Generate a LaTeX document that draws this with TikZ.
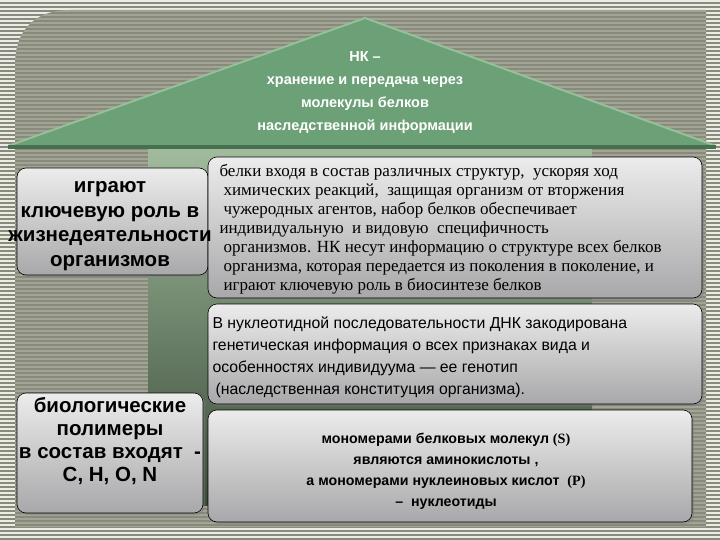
\documentclass[tikz,border=0pt]{standalone}
\usepackage{fontspec}
\setmainfont{Liberation Sans}
\newfontfamily\bookserif{Liberation Serif}
\usetikzlibrary{shadows}

\definecolor{framelight}{RGB}{236,236,230}
\definecolor{stripedark}{RGB}{136,138,124}
\definecolor{stripelight}{RGB}{162,164,150}
\definecolor{roofgreen}{RGB}{108,160,118}
\definecolor{roofedge}{RGB}{150,192,152}
\definecolor{roofbase}{RGB}{70,112,80}
\definecolor{bodytop}{RGB}{160,188,156}
\definecolor{bodymid}{RGB}{100,124,100}
\definecolor{bodybottom}{RGB}{58,74,58}
\definecolor{boxtop}{RGB}{236,236,236}
\definecolor{boxbottom}{RGB}{168,168,170}

\begin{document}
\begin{tikzpicture}[x=1pt,y=-1pt,
    infobox/.style={draw=black, line width=0.6pt, rounded corners=9pt,
      top color=boxtop, bottom color=boxbottom, inner sep=0pt,
      drop shadow={opacity=0.45, shadow xshift=2pt, shadow yshift=-2pt}},
    sidetext/.style={font=\bfseries\fontsize{20.5}{24.5}\selectfont, align=center},
  ]
  \useasboundingbox (0,0) rectangle (720,540);

  % striped background with the lighter frame
  \fill[framelight] (0,0) rectangle (720,540);
  \foreach \y in {2,6,...,538} {
    \fill[stripedark] (0,\y) rectangle (720,\y+2);
  }
  \begin{scope}
    \clip (15,527) -- (15,65) .. controls (15,30) and (35,10) .. (70,10)
      -- (706,10) -- (706,527) -- cycle;
    \fill[stripedark] (0,0) rectangle (720,540);
    \foreach \y in {2,6,...,538} {
      \fill[stripelight] (0,\y) rectangle (720,\y+1.6);
    }
  \end{scope}

  % house: body and roof
  \shade[top color=bodytop, middle color=bodymid, bottom color=bodybottom]
    (148,149) rectangle (592,505);
  \fill[roofgreen] (8,146) -- (365,18) -- (716,146) -- cycle;
  \draw[roofedge, line width=2pt] (8,146) -- (365,18) -- (716,146);
  \draw[roofbase, line width=4pt] (8,147) -- (716,147);

  \node[white, font=\bfseries\fontsize{14.5}{23}\selectfont, align=center] (nk) at (365,93)
    {НК --\\хранение и передача через\\молекулы белков\\наследственной информации};

  % boxes
  \node[infobox, minimum width=191pt, minimum height=107pt] (rolebox) at (112.5,221.5) {};
  \node[infobox, minimum width=494pt, minimum height=141pt] (proteinbox) at (455,227.5) {};
  \node[infobox, minimum width=494pt, minimum height=100pt] (dnabox) at (455,354) {};
  \node[infobox, minimum width=484pt, minimum height=112pt] (monomerbox) at (450,466) {};
  \node[infobox, minimum width=186pt, minimum height=120pt] (polymerbox) at (110,453) {};

  % texts
  \node[sidetext] (roletext) at (110,226)
    {играют\\ключевую роль в\\жизнедеятельности\\организмов};
  \node[sidetext, font=\bfseries\fontsize{20.5}{23}\selectfont] (polymertext) at (110,441)
    {биологические\\полимеры\\в состав входят \ -\\C, H, O, N};

  \node[anchor=west, align=left, font=\bookserif\fontsize{17}{19}\selectfont] (proteintext) at (216,229)
    {белки входя в состав различных структур, \ ускоряя ход\\
     \hspace{4pt}химических реакций, \ защищая организм от вторжения\\
     \hspace{4pt}чужеродных агентов, набор белков обеспечивает\\
     индивидуальную \ и видовую \ специфичность\\
     \hspace{4pt}организмов. НК несут информацию о структуре всех белков\\
     \hspace{4pt}организма, которая передается из поколения в поколение, и\\
     \hspace{4pt}играют ключевую роль в биосинтезе белков};

  \node[anchor=west, align=left, font=\fontsize{15.8}{22}\selectfont] (dnatext) at (209,357)
    {В нуклеотидной последовательности ДНК закодирована\\
     генетическая информация о всех признаках вида и\\
     особенностях индивидуума --- ее генотип\\
     \hspace{3pt}(наследственная конституция организма).};

  \node[align=center, font=\bfseries\fontsize{14.2}{21}\selectfont] (monomertext) at (446,471)
    {мономерами белковых молекул {\bookserif(S)}\\
     являются аминокислоты ,\\
     а мономерами нуклеиновых кислот \ {\bookserif(P)}\\
     -- \ нуклеотиды};
\end{tikzpicture}
\end{document}
